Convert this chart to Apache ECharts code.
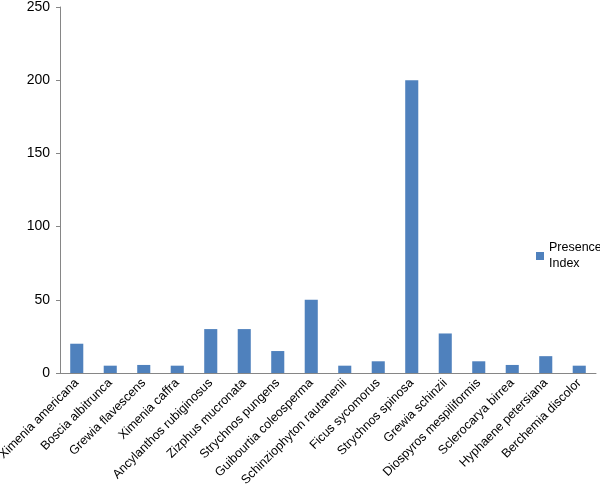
<!DOCTYPE html>
<html>
<head>
<meta charset="utf-8">
<script src="https://cdn.jsdelivr.net/npm/echarts@6/dist/echarts.min.js"></script>
<style>
	html, body { margin: 0; padding: 0; background: #fff; }
	#chart { width: 600px; height: 492px; }
</style>
</head>
<body>
<div id="chart"></div>
<script>
// DATA
var species = ['Ximenia americana', 'Boscia albitrunca', 'Grewia flavescens', 'Ximenia caffra',
	'Ancylanthos rubiginosus', 'Zizphus mucronata', 'Strychnos pungens', 'Guibourtia coleosperma',
	'Schinziophyton rautanenii', 'Ficus sycomorus', 'Strychnos spinosa', 'Grewia schinzii',
	'Diospyros mespiliformis', 'Sclerocarya birrea', 'Hyphaene petersiana', 'Berchemia discolor'];
var presenceIndex = [20, 5, 5.5, 5, 30, 30, 15, 50, 5, 8, 200, 27, 8, 5.5, 11.5, 5];
var seriesName = 'Presence Index';

var fontFamily = 'Liberation Sans, Arial, sans-serif';

function buildOptions() {
	return {
		animation: false,
		textStyle: { fontFamily: fontFamily },
		grid: { left: 60, right: 4, top: 7, bottom: 119, outerBoundsMode: 'none', containLabel: false },
		legend: {
			orient: 'vertical',
			left: 531,
			top: 235,
			itemWidth: 8,
			itemHeight: 8,
			itemGap: 4,
			icon: 'rect',
			formatter: function (name) { return 'Presence\nIndex'; },
			textStyle: { fontSize: 12.5, color: '#000', lineHeight: 16, fontFamily: fontFamily },
			data: [seriesName]
		},
		xAxis: {
			type: 'category',
			data: species,
			axisLine: { lineStyle: { color: '#868686' } },
			axisTick: { alignWithLabel: false, length: 4, lineStyle: { color: '#868686' } },
			axisLabel: {
				interval: 0,
				rotate: 45,
				fontSize: 12.5,
				color: '#000',
				margin: 8,
				fontFamily: fontFamily
			}
		},
		yAxis: {
			type: 'value',
			min: 0,
			max: 250,
			interval: 50,
			splitLine: { show: false },
			axisLine: { show: true, lineStyle: { color: '#868686' } },
			axisTick: { show: true, length: 4, lineStyle: { color: '#868686' } },
			axisLabel: { fontSize: 14, color: '#000', margin: 10, fontFamily: fontFamily }
		},
		series: [{
			name: seriesName,
			type: 'bar',
			data: presenceIndex,
			barWidth: '39%',
			itemStyle: { color: '#4F81BD' }
		}]
	};
}

var myChart = echarts.init(document.getElementById('chart'));
myChart.setOption(buildOptions());
</script>
</body>
</html>
